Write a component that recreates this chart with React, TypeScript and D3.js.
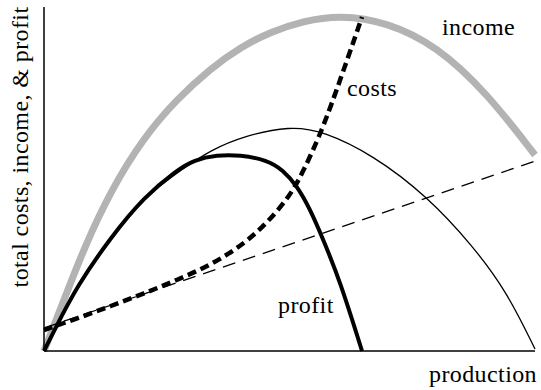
import React from "react";
import * as d3 from "d3";

type P = [number, number];

// production (0-100) vs amount (0-100)
const income: P[] = [
  [0, 0], [4.07, 14.83], [8.15, 29.94], [13.65, 46.8], [20.37, 62.21],
  [27.09, 73.26], [34.01, 82.27], [40.12, 88.37], [46.03, 92.73], [52.75, 95.93],
  [60.29, 97.67], [69.86, 95.64], [80.04, 88.66], [90.22, 75.0], [100, 56.98],
];

const costs: P[] = [
  [0, 6.1], [6.72, 9.45], [13.65, 13.08], [20.37, 16.72], [27.09, 20.64],
  [34.01, 25.0], [40.73, 31.1], [45.42, 37.21], [50.1, 45.06], [52.75, 52.03],
  [56.21, 62.79], [59.27, 74.42], [64.77, 97.09],
];

const linearCosts: P[] = [
  [0, 6.7], [100, 55.2],
];

const profitLinear: P[] = [
  [0, 0], [2.04, 5.81], [6.72, 18.9], [13.65, 33.14], [20.37, 44.77], [28.51, 53.2],
  [34.01, 58.43], [40.73, 62.5], [50.1, 65.41], [56.82, 63.95], [67.01, 56.98],
  [78.0, 45.06], [87.37, 30.52], [94.3, 17.15], [100, 0.58],
];

const profit: P[] = [
  [0, 0], [2.04, 5.81], [6.72, 18.9], [13.65, 33.14], [20.37, 44.77], [27.09, 52.62],
  [30.55, 55.52], [35.23, 56.98], [39.92, 56.98], [45.42, 55.52], [48.68, 52.62],
  [51.53, 47.97], [54.18, 41.28], [56.82, 32.56], [60.29, 20.35], [64.77, 0],
];

const labels = {
  y: "total costs, income, & profit",
  x: "production",
  income: "income",
  costs: "costs",
  profit: "profit",
};

const W = 541;
const H = 390;

export default function App() {
  const x = d3.scaleLinear().domain([0, 100]).range([44, 535]);
  const y = d3.scaleLinear().domain([0, 100]).range([351, 7]);
  const line = d3
    .line<P>()
    .x((d) => x(d[0]))
    .y((d) => y(d[1]))
    .curve(d3.curveBasis);
  const font = "Liberation Serif, Times New Roman, serif";
  const ts: React.CSSProperties = { fontFamily: font, fontSize: 24, letterSpacing: 0.4 };
  return (
    <svg
      width={W}
      height={H}
      style={{ position: "absolute", left: 0, top: 0, background: "#fff" }}
    >
      <path d={line(income) || ""} fill="none" stroke="#b3b3b3" strokeWidth={7} />
      <path d={line(linearCosts) || ""} fill="none" stroke="#000" strokeWidth={1.3} strokeDasharray="13,8" />
      <path d={line(profitLinear) || ""} fill="none" stroke="#000" strokeWidth={1.3} />
      <path d={line(profit) || ""} fill="none" stroke="#000" strokeWidth={4} />
      <path d={line(costs) || ""} fill="none" stroke="#000" strokeWidth={4.5} strokeDasharray="9,5" />
      <line x1={x(0)} x2={x(0)} y1={y(100)} y2={y(0)} stroke="#000" strokeWidth={1.5} />
      <line x1={x(0)} x2={x(100)} y1={y(0)} y2={y(0)} stroke="#000" strokeWidth={1.5} />
      <text style={ts} x={442} y={35}>{labels.income}</text>
      <text style={ts} x={347} y={96}>{labels.costs}</text>
      <text style={ts} x={278} y={313}>{labels.profit}</text>
      <text style={ts} x={537} y={382} textAnchor="end">{labels.x}</text>
      <text style={ts} textAnchor="middle" transform="translate(28,147) rotate(-90)">{labels.y}</text>
    </svg>
  );
}
